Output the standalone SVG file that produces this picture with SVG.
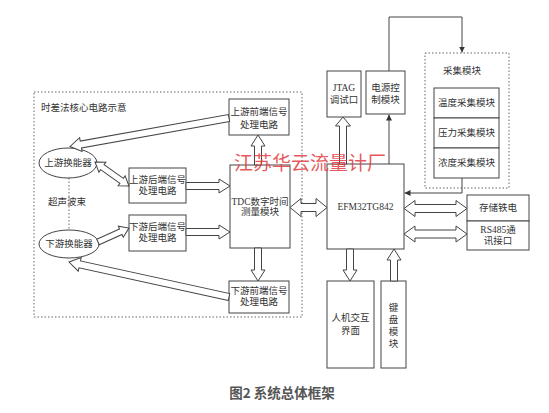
<svg xmlns="http://www.w3.org/2000/svg" width="549" height="413" viewBox="0 0 549 413">
<defs>
<style>
.box{fill:#fff;stroke:#444;stroke-width:1}
.dash{fill:none;stroke:#666;stroke-width:1;stroke-dasharray:1.5,2}
.t{font-family:"Liberation Serif","Noto Sans CJK SC",serif;font-size:9.5px;fill:#333;text-anchor:middle;dominant-baseline:central}
.tl{text-anchor:start}
.ha{fill:#fff;stroke:#444;stroke-width:1;stroke-linejoin:miter}
.ln{fill:none;stroke:#444;stroke-width:1}
.dot{fill:none;stroke:#666;stroke-width:1;stroke-dasharray:1.5,2}
.cap{font-family:"Noto Sans CJK SC","Liberation Sans",sans-serif;font-size:13.5px;font-weight:bold;fill:#555;text-anchor:middle;dominant-baseline:central}
.wm{font-family:"Noto Sans CJK SC",sans-serif;font-size:19px;fill:#e23a40;fill-opacity:0.85;text-anchor:middle;dominant-baseline:central}
</style>
<marker id="ah" viewBox="0 0 8 8" refX="8" refY="4" markerWidth="6" markerHeight="6" orient="auto" markerUnits="userSpaceOnUse">
<path d="M0,0 L8,4 L0,8 Z" fill="#333"/>
</marker>
</defs>
<rect width="549" height="413" fill="#fff"/>

<g id="core-region">
<rect class="dash" x="34" y="92" width="268" height="225"/>
<text class="t tl" x="41" y="108">时差法核心电路示意</text>
<line class="dot" x1="69" y1="178" x2="69" y2="229"/>
<text class="t" x="67" y="202">超声波束</text>
</g>

<g id="up-transducer">
<ellipse class="box" cx="68" cy="163" rx="29" ry="15"/>
<text class="t" x="68" y="163">上游换能器</text>
</g>
<g id="down-transducer">
<ellipse class="box" cx="69" cy="244" rx="30" ry="14"/>
<text class="t" x="69" y="244">下游换能器</text>
</g>
<g id="up-front">
<rect class="box" x="229" y="99" width="60" height="36"/>
<text class="t" x="259" y="112">上游前端信号</text>
<text class="t" x="259" y="124.5">处理电路</text>
</g>
<g id="up-back">
<rect class="box" x="129" y="168" width="57" height="35"/>
<text class="t" x="157.5" y="180">上游后端信号</text>
<text class="t" x="157.5" y="191">处理电路</text>
</g>
<g id="down-back">
<rect class="box" x="129" y="215" width="57" height="36"/>
<text class="t" x="157.5" y="227">下游后端信号</text>
<text class="t" x="157.5" y="238">处理电路</text>
</g>
<g id="tdc">
<rect class="box" x="230" y="165" width="60" height="83"/>
<text class="t" x="260" y="201.5">TDC数字时间</text>
<text class="t" x="260" y="212">测量模块</text>
</g>
<g id="down-front">
<rect class="box" x="229" y="281" width="60" height="32"/>
<text class="t" x="259" y="291">下游前端信号</text>
<text class="t" x="259" y="302">处理电路</text>
</g>

<g id="mcu">
<rect class="box" x="327" y="164" width="77" height="85"/>
<text class="t" x="365.5" y="207">EFM32TG842</text>
</g>
<g id="jtag">
<rect class="box" x="327" y="71" width="34" height="46"/>
<text class="t" x="344" y="88">JTAG</text>
<text class="t" x="344" y="99.5">调试口</text>
</g>
<g id="power">
<rect class="box" x="366" y="71" width="39" height="43"/>
<text class="t" x="385.5" y="88">电源控</text>
<text class="t" x="385.5" y="99.5">制模块</text>
</g>
<g id="acq">
<rect class="dash" x="425" y="53" width="84" height="135"/>
<text class="t" x="462" y="71">采集模块</text>
</g>
<g id="temp">
<rect class="box" x="434" y="88" width="65" height="30"/>
<text class="t" x="466.5" y="103">温度采集模块</text>
</g>
<g id="press">
<rect class="box" x="434" y="118" width="65" height="30"/>
<text class="t" x="466.5" y="133">压力采集模块</text>
</g>
<g id="conc">
<rect class="box" x="434" y="148" width="65" height="30"/>
<text class="t" x="466.5" y="163">浓度采集模块</text>
</g>
<g id="fram">
<rect class="box" x="467" y="195" width="62" height="26"/>
<text class="t" x="498" y="208">存储铁电</text>
</g>
<g id="rs485">
<rect class="box" x="467" y="221" width="62" height="29"/>
<text class="t" x="498" y="230">RS485通</text>
<text class="t" x="498" y="241">讯接口</text>
</g>
<g id="hmi">
<rect class="box" x="327" y="281" width="47" height="87"/>
<text class="t" x="350.5" y="318">人机交互</text>
<text class="t" x="350.5" y="331">界面</text>
</g>
<g id="keyboard">
<rect class="box" x="381" y="281" width="25" height="87"/>
<text class="t" x="393.5" y="308">键</text>
<text class="t" x="393.5" y="320">盘</text>
<text class="t" x="393.5" y="332">模</text>
<text class="t" x="393.5" y="344">块</text>
</g>

<g id="connectors">
<path class="ha" transform="translate(229,118) rotate(169.84)" d="M0,-3.5 H150.5 V-7 L161.5,0 L150.5,7 V3.5 H0 Z"/>
<path class="ha" transform="translate(229,297) rotate(-167.66)" d="M0,-3.5 H152.8 V-7 L163.8,0 L152.8,7 V3.5 H0 Z"/>
<path class="ha" transform="translate(95,162) rotate(35.22)" d="M0,0 L9,-6 V-3 H32.6 V-6 L41.6,0 L32.6,6 V3 H9 V6 Z"/>
<path class="ha" transform="translate(98,242) rotate(-24.3)" d="M0,-3 H25 V-6 L34,0 L25,6 V3 H0 Z"/>
<path class="ha" d="M186,182.5 H219 V179 L230,186 L219,193 V189.5 H186 Z"/>
<path class="ha" d="M186,228.5 H219 V225 L230,232 L219,239 V235.5 H186 Z"/>
<path class="ha" d="M254.5,165 V146 H251 L258,135 L265,146 H261.5 V165 Z"/>
<path class="ha" d="M254.5,248 V270 H251 L258,281 L265,270 H261.5 V248 Z"/>
<path class="ha" d="M290,207.5 L301,198.5 V203.5 H316 V198.5 L327,207.5 L316,216.5 V211.5 H301 V216.5 Z"/>
<path class="ha" d="M339.5,164 V126 H335.5 L343,117 L350.5,126 H346.5 V164 Z"/>
<path class="ha" d="M404,208.5 L415,200.5 V204.5 H456 V200.5 L467,208.5 L456,216.5 V212.5 H415 V216.5 Z"/>
<path class="ha" d="M404,234 L415,226 V230 H456 V226 L467,234 L456,242 V238 H415 V242 Z"/>
<path class="ha" d="M346.5,249 V270 H343 L350,281 L357,270 H353.5 V249 Z"/>
<path class="ha" d="M390.5,281 V260 H387 L394,249 L401,260 H397.5 V281 Z"/>
<path class="ln" d="M389,164 V114.5" marker-end="url(#ah)"/>
<path class="ln" d="M389,71 V17 H462 V52.5" marker-end="url(#ah)"/>
<path class="ln" d="M462,178 V193 H404.5" marker-end="url(#ah)"/>
</g>

<text class="wm" x="310" y="161">江苏华云流量计厂</text>
<text class="cap" x="282" y="392">图2 系统总体框架</text>
</svg>
